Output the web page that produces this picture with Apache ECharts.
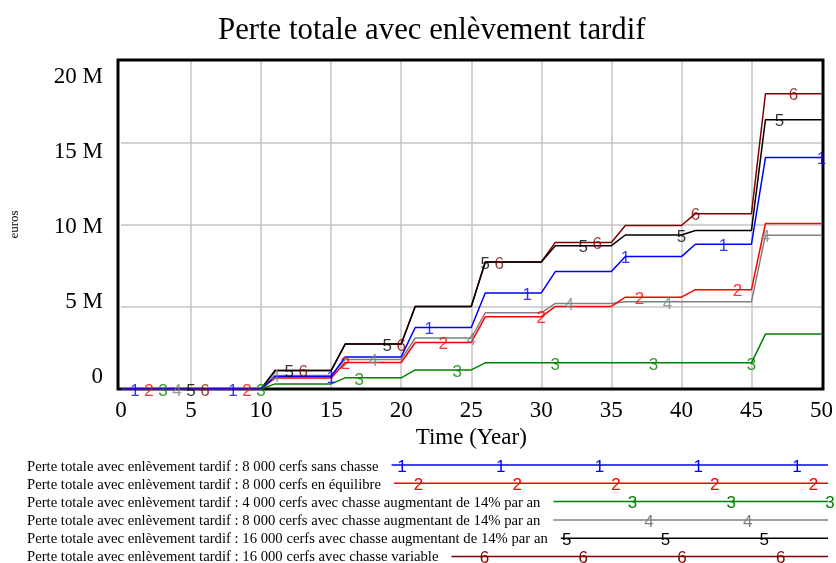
<!DOCTYPE html>
<html>
<head>
<meta charset="utf-8">
<script src="https://cdn.jsdelivr.net/npm/echarts@6/dist/echarts.min.js"></script>
<style>
  html, body { margin: 0; padding: 0; background: #fff; }
  #chart { width: 836px; height: 563px; }
</style>
</head>
<body>
<div id="chart"></div>
<script>
// Simulation output: total loss (millions of euros) at the vertices of each run.
// Losses are booked in one-year ramps every five years.
const years = [0, 10, 11, 15, 16, 20, 21, 25, 26, 30, 31, 35, 36, 40, 41, 45, 46, 50];

const run1 = [0, 0, 0.76, 0.76, 1.95, 1.95, 3.74, 3.74, 5.84, 5.84, 7.14, 7.14, 8.05, 8.05, 8.80, 8.80, 14.07, 14.07];
const run2 = [0, 0, 0.67, 0.67, 1.61, 1.61, 2.83, 2.83, 4.39, 4.39, 5.02, 5.02, 5.58, 5.58, 6.04, 6.04, 10.06, 10.06];
const run3 = [0, 0, 0.31, 0.31, 0.68, 0.68, 1.16, 1.16, 1.59, 1.59, 1.59, 1.59, 1.59, 1.59, 1.59, 1.59, 3.34, 3.34];
const run4 = [0, 0, 0.82, 0.82, 1.79, 1.79, 3.10, 3.10, 4.63, 4.63, 5.20, 5.20, 5.30, 5.30, 5.30, 5.30, 9.35, 9.35];
const run5 = [0, 0, 1.12, 1.12, 2.73, 2.73, 5.02, 5.02, 7.72, 7.72, 8.71, 8.71, 9.36, 9.36, 9.64, 9.64, 16.37, 16.37];
const run6 = [0, 0, 1.12, 1.12, 2.73, 2.73, 5.02, 5.02, 7.72, 7.72, 8.91, 8.91, 9.94, 9.94, 10.66, 10.66, 17.95, 17.95];

const runNames = [
  'Perte totale avec enlèvement tardif : 8 000 cerfs sans chasse',
  'Perte totale avec enlèvement tardif : 8 000 cerfs en équilibre',
  'Perte totale avec enlèvement tardif : 4 000 cerfs avec chasse augmentant de 14% par an',
  'Perte totale avec enlèvement tardif : 8 000 cerfs avec chasse augmentant de 14% par an',
  'Perte totale avec enlèvement tardif : 16 000 cerfs avec chasse augmentant de 14% par an',
  'Perte totale avec enlèvement tardif : 16 000 cerfs avec chasse variable'
];

const yTicks = [0, 5, 10, 15, 20];

const runs = [run1, run2, run3, run4, run5, run6];
const colors = ['#0000ff', '#ff0000', '#008000', '#808080', '#000000', '#800000'];

const serifFont = '"Liberation Serif", "Times New Roman", serif';
const sansFont = '"Liberation Sans", Arial, sans-serif';

// value of a run at an integer year (last vertex at or before it)
function valueAt(run, yr) {
  let j = 0;
  for (let k = 0; k < years.length; k++) if (years[k] <= yr) j = k;
  return run[j];
}

const series = [];
runs.forEach((run, i) => {
  series.push({
    type: 'line',
    name: runNames[i],
    data: years.map((t, k) => [t, run[k]]),
    symbol: 'none',
    lineStyle: { color: colors[i], width: 1.5 },
    z: 10 - i,
    silent: true,
    animation: false
  });
  // numbered tags every 7 years, staggered by run
  const tags = [];
  for (let yr = i + 1; yr <= 50; yr += 7) tags.push([yr, valueAt(run, yr)]);
  series.push({
    type: 'scatter',
    data: tags,
    symbolSize: 1,
    itemStyle: { color: 'rgba(0,0,0,0)' },
    label: {
      show: true,
      position: 'inside',
      offset: [0, 2],
      formatter: String(i + 1),
      color: colors[i],
      fontFamily: sansFont,
      fontSize: 17
    },
    z: 20,
    clip: false,
    silent: true,
    animation: false
  });
});

// Legend block below the plot: name, coloured rule, numbered tags
const graphics = [];
const measure = document.createElement('canvas').getContext('2d');
const legendFontSize = 14.7;
measure.font = legendFontSize + 'px ' + serifFont;
runNames.forEach((name, i) => {
  const textY = 467 + 18 * i;
  const lineY = 465 + 18.3 * i;
  const textW = measure.measureText(name).width;
  const x1 = 27 + textW + 13;
  const x2 = 828;
  graphics.push({
    type: 'text', x: 27, y: textY, silent: true,
    style: { text: name, fill: '#000', font: legendFontSize + 'px ' + serifFont, verticalAlign: 'middle', align: 'left' }
  });
  graphics.push({
    type: 'line', silent: true,
    shape: { x1: x1, y1: lineY, x2: x2, y2: lineY },
    style: { stroke: colors[i], lineWidth: 1.5 }
  });
  for (let x = 402 + 16.5 * i; x <= 831; x += 98.75) {
    if (x < x1) continue;
    graphics.push({
      type: 'text', x: x, y: lineY + 2, silent: true,
      style: { text: String(i + 1), fill: colors[i], font: '17px ' + sansFont, align: 'center', verticalAlign: 'middle' }
    });
  }
});

// plot frame drawn above the grid lines
graphics.push({
  type: 'rect', silent: true, z: 5,
  shape: { x: 118, y: 60, width: 705, height: 329 },
  style: { fill: 'none', stroke: '#000', lineWidth: 3 }
});

const chart = echarts.init(document.getElementById('chart'), null, { renderer: 'canvas' });
chart.setOption({
  backgroundColor: '#fff',
  animation: false,
  title: {
    text: 'Perte totale avec enlèvement tardif',
    left: 213,
    top: 10,
    textStyle: { fontFamily: serifFont, fontSize: 30.8, fontWeight: 'normal', color: '#000' }
  },
  grid: {
    left: 118, top: 60, width: 705, height: 329,
    show: false
  },
  xAxis: {
    type: 'value', min: 0, max: 50, interval: 5,
    name: 'Time (Year)', nameLocation: 'middle', nameGap: 37,
    nameTextStyle: { fontFamily: serifFont, fontSize: 23, color: '#000' },
    axisLine: { show: false }, axisTick: { show: false },
    axisLabel: { fontFamily: serifFont, fontSize: 23, color: '#000', margin: 10 },
    splitLine: { show: true, showMinLine: false, showMaxLine: false, lineStyle: { color: '#c4c4c4', width: 1.5 } }
  },
  yAxis: [
    {
      type: 'value', min: 0, max: 20, interval: 5,
      name: 'euros', nameLocation: 'middle', nameRotate: 90, nameGap: 100,
      nameTextStyle: { fontFamily: serifFont, fontSize: 13, color: '#000' },
      axisLine: { show: false }, axisTick: { show: false },
      axisLabel: { show: false },
      splitLine: { show: true, showMinLine: false, showMaxLine: false, lineStyle: { color: '#c4c4c4', width: 1.5 } }
    },
    {
      // tick labels sit on their own evenly spaced scale
      type: 'value', min: -0.82, max: 21.113, position: 'left', offset: 0,
      axisLine: { show: false }, axisTick: { show: false },
      splitLine: { show: false },
      axisLabel: {
        customValues: yTicks,
        margin: 18,
        fontFamily: serifFont, fontSize: 23, color: '#000',
        formatter: v => (v === 0 ? '0' : v + ' M')
      }
    }
  ],
  series: series,
  graphic: graphics
});
</script>
</body>
</html>
